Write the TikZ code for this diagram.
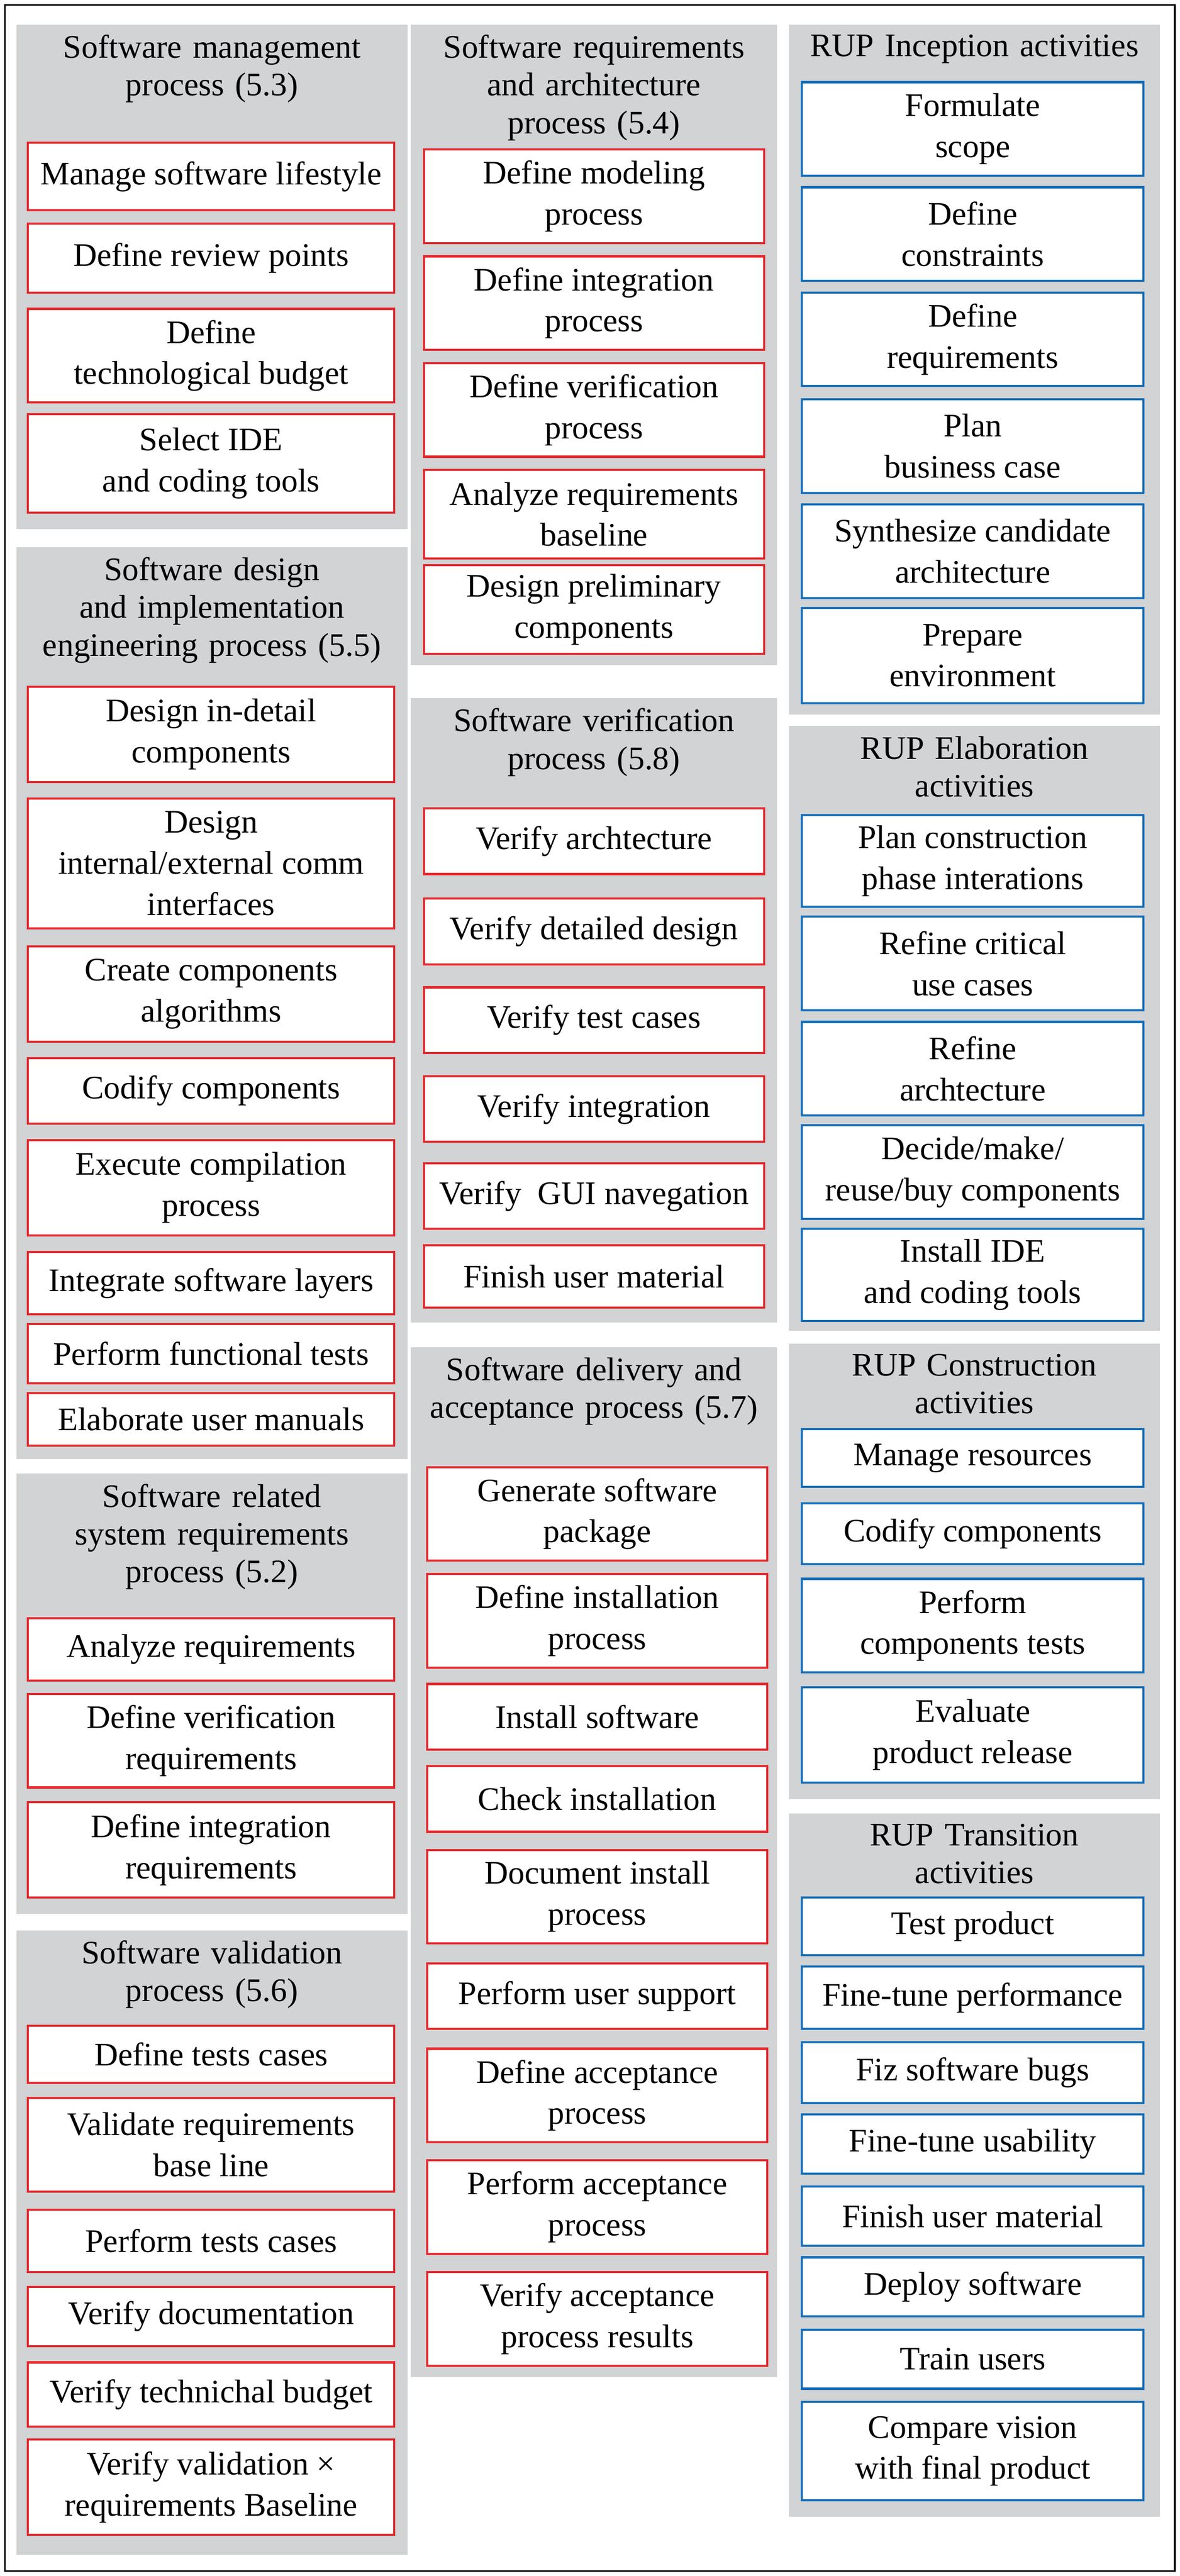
\documentclass[tikz,border=0pt]{standalone}
\usepackage{fontspec}
\setmainfont{Liberation Serif}
\definecolor{pgrey}{RGB}{209,211,212}
\definecolor{bred}{RGB}{230,40,45}
\definecolor{bblue}{RGB}{20,110,185}
\newcounter{bxn}
\newcommand\pnl[5]{\stepcounter{bxn}\fill[pgrey] (#1,#2) rectangle (#3,#4);
 \node[ttl,text width={(#3-#1-4)*1pt}] (t\arabic{bxn}) at ({(#1+#3)/2},#2+6) {#5};}
\newcommand\bx[6]{\stepcounter{bxn}\node[bxs,draw=#6,minimum width={(#3-#1)*1pt},minimum height={(#4-#2)*1pt}] (b\arabic{bxn}) at ({(#1+#3)/2},{(#2+#4)/2}) {#5};}
\tikzset{ttl/.style={anchor=north,align=center,inner sep=0pt,font=\fontsize{20}{23}\selectfont},
 bxs/.style={fill=white,line width=1.3pt,align=center,inner sep=0pt,font=\fontsize{20}{25}\selectfont}}
\begin{document}
\begin{tikzpicture}[x=1pt,y=-1pt]
\fill[white] (0,0) rectangle (718,1568);
\draw[line width=1pt] (3,3) rectangle (715,1565);
% column 1
\pnl{10}{15}{248}{322}{Software management\\process (5.3)}
\bx{17}{87}{240}{128}{Manage software lifestyle}{bred}
\bx{17}{136}{240}{178}{Define review points}{bred}
\bx{17}{188}{240}{245}{Define\\technological budget}{bred}
\bx{17}{252}{240}{312}{Select IDE\\and coding tools}{bred}
\pnl{10}{333}{248}{888}{Software design\\and implementation\\engineering process (5.5)}
\bx{17}{418}{240}{476}{Design in-detail\\components}{bred}
\bx{17}{486}{240}{565}{Design\\internal/external comm\\interfaces}{bred}
\bx{17}{576}{240}{634}{Create components\\algorithms}{bred}
\bx{17}{644}{240}{684}{Codify components}{bred}
\bx{17}{694}{240}{752}{Execute compilation\\process}{bred}
\bx{17}{762}{240}{800}{Integrate software layers}{bred}
\bx{17}{806}{240}{842}{Perform functional tests}{bred}
\bx{17}{848}{240}{880}{Elaborate user manuals}{bred}
\pnl{10}{897}{248}{1165}{Software related\\system requirements\\process (5.2)}
\bx{17}{985}{240}{1023}{Analyze requirements}{bred}
\bx{17}{1031}{240}{1088}{Define verification\\requirements}{bred}
\bx{17}{1097}{240}{1155}{Define integration\\requirements}{bred}
\pnl{10}{1175}{248}{1555}{Software validation\\process (5.6)}
\bx{17}{1233}{240}{1268}{Define tests cases}{bred}
\bx{17}{1277}{240}{1334}{Validate requirements\\base line}{bred}
\bx{17}{1345}{240}{1383}{Perform tests cases}{bred}
\bx{17}{1392}{240}{1428}{Verify documentation}{bred}
\bx{17}{1438}{240}{1477}{Verify technichal budget}{bred}
\bx{17}{1485}{240}{1543}{Verify validation ×\\requirements Baseline}{bred}
% column 2
\pnl{250}{15}{473}{405}{Software requirements\\and architecture\\process (5.4)}
\bx{258}{91}{465}{148}{Define modeling\\process}{bred}
\bx{258}{156}{465}{213}{Define integration\\process}{bred}
\bx{258}{221}{465}{278}{Define verification\\process}{bred}
\bx{258}{286}{465}{340}{Analyze requirements\\baseline}{bred}
\bx{258}{344}{465}{398}{Design preliminary\\components}{bred}
\pnl{250}{425}{473}{805}{Software verification\\process (5.8)}
\bx{258}{492}{465}{532}{Verify archtecture}{bred}
\bx{258}{547}{465}{587}{Verify detailed design}{bred}
\bx{258}{601}{465}{641}{Verify test cases}{bred}
\bx{258}{655}{465}{695}{Verify integration}{bred}
\bx{258}{708}{465}{748}{Verify\ \ GUI navegation}{bred}
\bx{258}{758}{465}{796}{Finish user material}{bred}
\pnl{250}{820}{473}{1447}{Software delivery and\\acceptance process (5.7)}
\bx{260}{893}{467}{950}{Generate software\\package}{bred}
\bx{260}{958}{467}{1015}{Define installation\\process}{bred}
\bx{260}{1025}{467}{1065}{Install software}{bred}
\bx{260}{1075}{467}{1115}{Check installation}{bred}
\bx{260}{1126}{467}{1183}{Document install\\process}{bred}
\bx{260}{1195}{467}{1235}{Perform user support}{bred}
\bx{260}{1247}{467}{1304}{Define acceptance\\process}{bred}
\bx{260}{1315}{467}{1372}{Perform acceptance\\process}{bred}
\bx{260}{1383}{467}{1440}{Verify acceptance\\process results}{bred}
% column 3
\pnl{480}{15}{706}{435}{RUP Inception activities}
\bx{488}{50}{696}{107}{Formulate\\scope}{bblue}
\bx{488}{114}{696}{171}{Define\\constraints}{bblue}
\bx{488}{178}{696}{235}{Define\\requirements}{bblue}
\bx{488}{243}{696}{300}{Plan\\business case}{bblue}
\bx{488}{307}{696}{364}{Synthesize candidate\\architecture}{bblue}
\bx{488}{370}{696}{428}{Prepare\\environment}{bblue}
\pnl{480}{442}{706}{810}{RUP Elaboration\\activities}
\bx{488}{496}{696}{552}{Plan construction\\phase interations}{bblue}
\bx{488}{558}{696}{615}{Refine critical\\use cases}{bblue}
\bx{488}{622}{696}{679}{Refine\\archtecture}{bblue}
\bx{488}{685}{696}{742}{Decide/make/\\reuse/buy components}{bblue}
\bx{488}{748}{696}{804}{Install IDE\\and coding tools}{bblue}
\pnl{480}{818}{706}{1095}{RUP Construction\\activities}
\bx{488}{870}{696}{905}{Manage resources}{bblue}
\bx{488}{915}{696}{952}{Codify components}{bblue}
\bx{488}{961}{696}{1018}{Perform\\components tests}{bblue}
\bx{488}{1027}{696}{1085}{Evaluate\\product release}{bblue}
\pnl{480}{1104}{706}{1532}{RUP Transition\\activities}
\bx{488}{1155}{696}{1190}{Test product}{bblue}
\bx{488}{1197}{696}{1235}{Fine-tune performance}{bblue}
\bx{488}{1243}{696}{1280}{Fiz software bugs}{bblue}
\bx{488}{1287}{696}{1323}{Fine-tune usability}{bblue}
\bx{488}{1331}{696}{1367}{Finish user material}{bblue}
\bx{488}{1374}{696}{1410}{Deploy software}{bblue}
\bx{488}{1418}{696}{1454}{Train users}{bblue}
\bx{488}{1462}{696}{1522}{Compare vision\\with final product}{bblue}
\end{tikzpicture}
\end{document}
